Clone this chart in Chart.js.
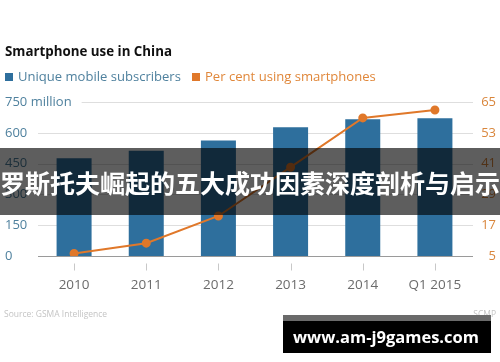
<!DOCTYPE html>
<html><head><meta charset="utf-8">
<script src="https://cdn.jsdelivr.net/npm/chart.js@4"></script>
<style>html,body{margin:0;padding:0;background:#fff}#wrap{width:500px;height:362px;position:relative}</style>
</head><body><div id="wrap"><canvas id="c" width="500" height="362"></canvas></div>
<script>
const categories = ['2010','2011','2012','2013','2014','Q1 2015'];
const subscribers = [476, 513, 563, 627, 666, 671];
const smartphonePct = [6, 10, 20.6, 39.6, 58.8, 61.9];
const leftTicks = [0, 150, 300, 450, 600, 750];
const rightTicks = [5, 17, 29, 41, 53, 65];

const BLUE = '#2e6f9d', ORANGE = '#e0782a';
const FONT = '"Open Sans", "Noto Sans", sans-serif';

function fit(ctx, text, weight, family, targetW) {
  ctx.font = weight + ' 20px ' + family;
  const s = 20 * targetW / ctx.measureText(text).width;
  ctx.font = weight + ' ' + s.toFixed(2) + 'px ' + family;
}

const deco = {
  id: 'deco',
  beforeDatasetsDraw(chart) {
    const ctx = chart.ctx, y = chart.scales.y, a = chart.chartArea;
    ctx.save();
    ctx.font = '13px ' + FONT;
    leftTicks.forEach(v => {
      const py = Math.round(y.getPixelForValue(v)) + 0.5;
      if (v === 0) return;
      const lbl = v === 750 ? '750 million' : String(v);
      const w = ctx.measureText(lbl).width;
      const x0 = Math.max(a.left, 5 + w + 10);
      ctx.strokeStyle = '#dedede'; ctx.lineWidth = 1;
      ctx.beginPath(); ctx.moveTo(x0, py); ctx.lineTo(a.right + 2, py); ctx.stroke();
    });
    ctx.restore();
  },
  afterDraw(chart) {
    const ctx = chart.ctx, y = chart.scales.y, y1 = chart.scales.y1, x = chart.scales.x, a = chart.chartArea;
    ctx.save();
    const by = Math.round(y.getPixelForValue(0)) + 0.5;
    ctx.strokeStyle = '#9a9a9a'; ctx.lineWidth = 1;
    ctx.beginPath(); ctx.moveTo(a.left, by); ctx.lineTo(a.right + 2, by); ctx.stroke();
    ctx.font = '13px ' + FONT; ctx.textBaseline = 'middle'; ctx.textAlign = 'left';
    ctx.fillStyle = '#4f819e';
    leftTicks.forEach(v => {
      const lbl = v === 750 ? '750 million' : String(v);
      ctx.fillText(lbl, 5, y.getPixelForValue(v));
    });
    ctx.fillStyle = '#d9863c'; ctx.textAlign = 'right';
    rightTicks.forEach(v => ctx.fillText(String(v), 496, y1.getPixelForValue(v)));
    ctx.strokeStyle = '#c8c8c8';
    categories.forEach((c, i) => {
      const px = Math.round(x.getPixelForValue(i)) + 0.5;
      ctx.beginPath(); ctx.moveTo(px, by + 7); ctx.lineTo(px, by + 14); ctx.stroke();
    });
    ctx.fillStyle = '#6b6b6b'; ctx.textAlign = 'center';
    ctx.font = '13.5px ' + FONT;
    categories.forEach((c, i) => ctx.fillText(c, x.getPixelForValue(i), 285));
    // title
    ctx.textAlign = 'left'; ctx.fillStyle = '#111';
    fit(ctx, 'Smartphone use in China', 'bold', FONT, 167);
    ctx.fillText('Smartphone use in China', 5, 52);
    // legend
    ctx.fillStyle = BLUE; ctx.fillRect(5, 73, 8, 8);
    ctx.fillStyle = '#4f819e';
    fit(ctx, 'Unique mobile subscribers', 'normal', FONT, 163);
    ctx.fillText('Unique mobile subscribers', 18, 77);
    ctx.fillStyle = ORANGE; ctx.fillRect(192, 73, 8, 8);
    ctx.fillStyle = '#e0873a';
    fit(ctx, 'Per cent using smartphones', 'normal', FONT, 171);
    ctx.fillText('Per cent using smartphones', 205, 77);
    // source
    ctx.font = '8.5px ' + FONT; ctx.fillStyle = '#c4c4c4';
    ctx.fillText('Source: GSMA Intelligence', 4, 315);
    ctx.textAlign = 'right'; ctx.fillText('SCMP', 496, 315);
    // overlay band
    ctx.fillStyle = 'rgba(0,0,0,0.63)';
    ctx.fillRect(0, 148, 500, 67);
    ctx.fillStyle = '#fff'; ctx.textAlign = 'center';
    ctx.font = 'bold 25px "Noto Sans CJK SC", sans-serif';
    ctx.fillText('罗斯托夫崛起的五大成功因素深度剖析与启示', 250, 183);
    // watermark
    ctx.fillStyle = '#000'; ctx.fillRect(283, 315, 208, 38);
    ctx.fillStyle = '#6a6a6a'; ctx.fillRect(283, 315, 208, 6);
    ctx.fillStyle = '#fff'; ctx.textAlign = 'left';
    fit(ctx, 'www.am-j9games.com', 'bold', FONT, 186);
    ctx.fillText('www.am-j9games.com', 293, 338);
    ctx.restore();
  }
};

new Chart(document.getElementById('c'), {
  type: 'bar',
  data: {
    labels: categories,
    datasets: [
      { type: 'bar', data: subscribers, backgroundColor: BLUE, yAxisID: 'y', order: 2,
        barPercentage: 0.485, categoryPercentage: 1 },
      { type: 'line', data: smartphonePct, borderColor: ORANGE, backgroundColor: ORANGE, borderWidth: 2,
        pointRadius: 3.5, pointHoverRadius: 3.5, tension: 0, yAxisID: 'y1', order: 1 }
    ]
  },
  options: {
    responsive: false, animation: false, events: [],
    layout: { padding: { left: 38, right: 29, top: 102, bottom: 106 } },
    plugins: { legend: { display: false }, tooltip: { enabled: false } },
    scales: {
      x: { display: false, offset: true },
      y: { display: false, min: 0, max: 750 },
      y1: { display: false, min: 5, max: 65, position: 'right' }
    }
  },
  plugins: [deco]
});
</script></body></html>
